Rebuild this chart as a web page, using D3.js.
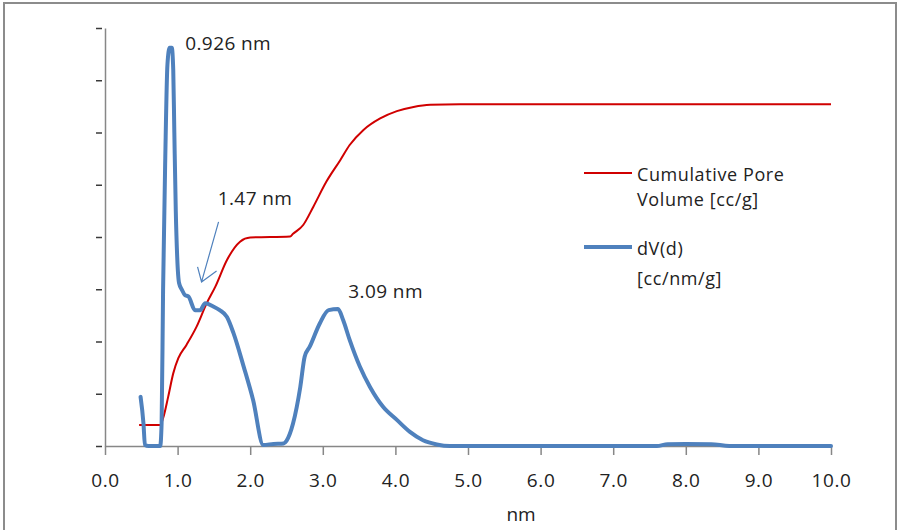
<!DOCTYPE html>
<html>
<head>
<meta charset="utf-8">
<script src="https://cdn.jsdelivr.net/npm/d3@7"></script>
<style>
  body { margin: 0; background: #fff; }
  text { font-family: "Open Sans", "Noto Sans", sans-serif; fill: #222; }
</style>
</head>
<body>
<svg id="chart" width="898" height="530"></svg>
<script>
// pore diameter (nm) vs differential pore volume dV(d)
var dvX = [0.49, 0.53, 0.55, 0.60, 0.76, 0.78, 0.80, 0.83, 0.86, 0.89, 0.92, 0.94, 0.955, 0.975, 0.995,
  1.02, 1.06, 1.10, 1.15, 1.24, 1.31, 1.38, 1.49, 1.58, 1.68, 1.77, 1.91, 2.04, 2.18, 2.32, 2.46,
  2.50, 2.59, 2.69, 2.75, 2.82, 2.96, 3.08, 3.21, 3.28, 3.37, 3.51, 3.65, 3.83, 4.02, 4.20, 4.38,
  4.57, 4.75, 7.60, 7.75, 8.00, 8.35, 8.60, 10.0];
var dvY = [0.94, 0.43, 0.02, 0, 0, 0.44, 2.99, 5.5, 7.3, 7.62, 7.62, 7.2, 6.0, 4.5, 3.6,
  3.12, 2.99, 2.89, 2.86, 2.60, 2.60, 2.73, 2.67, 2.60, 2.47, 2.16, 1.52, 0.88, 0.02, 0.04, 0.05,
  0.10, 0.43, 1.13, 1.71, 1.90, 2.35, 2.60, 2.62, 2.41, 2.03, 1.52, 1.13, 0.75, 0.50, 0.27, 0.11,
  0.03, 0, 0, 0.035, 0.04, 0.035, 0, 0];

// cumulative pore volume
var cumX = [0.47, 0.76, 0.80, 0.87, 0.94, 1.01, 1.12, 1.26, 1.40, 1.52, 1.68, 1.86, 2.00, 2.55, 2.59,
  2.73, 2.87, 3.05, 3.24, 3.37, 3.56, 3.79, 4.02, 4.25, 4.48, 4.89, 10.0];
var cumY = [0.40, 0.40, 0.53, 0.94, 1.39, 1.68, 1.93, 2.28, 2.73, 3.05, 3.56, 3.91, 3.99, 4.01, 4.06,
  4.23, 4.58, 5.06, 5.47, 5.76, 6.05, 6.27, 6.41, 6.49, 6.53, 6.54, 6.54];

var xTicks = [0, 1, 2, 3, 4, 5, 6, 7, 8, 9, 10];
var yTicks = [0, 1, 2, 3, 4, 5, 6, 7, 8];

var peakLabels = [
  {x: 0.926, y: 7.62, text: "0.926 nm"},
  {x: 1.47, y: 2.68, text: "1.47 nm"},
  {x: 3.09, y: 2.62, text: "3.09 nm"}
];
var legendNames = [["Cumulative Pore", "Volume [cc/g]"], ["dV(d)", "[cc/nm/g]"]];

(function(){
  var blue = "#4f81bd", red = "#d00000", grey = "#878787";
  var svg = d3.select("#chart");
  var m = {left: 105, right: 831, top: 28, bottom: 446};

  var x = d3.scaleLinear().domain([0, 10]).range([m.left, m.right]);
  var y = d3.scaleLinear().domain([0, 8]).range([m.bottom, m.top]);

  // outer chart frame
  svg.append("rect").attr("width", 898).attr("height", 530).attr("fill", "#fff");
  svg.append("path")
    .attr("d", "M4,530 L4,3 L896,3 L896,530")
    .attr("fill", "none").attr("stroke", "#8c8c8c").attr("stroke-width", 2);

  // y axis: ticks only, no labels
  var ya = svg.append("g").attr("transform", "translate(" + m.left + ",0)")
    .call(d3.axisLeft(y).tickValues(yTicks).tickSize(9).tickSizeOuter(0).tickFormat(""));
  ya.select(".domain").attr("stroke", grey).attr("stroke-width", 1.5);
  ya.selectAll(".tick line").attr("stroke", "#3a3a3a").attr("stroke-width", 1.5).attr("x2", -3).attr("x1", -9);

  // x axis
  var xa = svg.append("g").attr("transform", "translate(0," + m.bottom + ")")
    .call(d3.axisBottom(x).tickValues(xTicks).tickSize(9).tickSizeOuter(0).tickFormat(d3.format(".1f")));
  xa.select(".domain").attr("stroke", grey).attr("stroke-width", 1.5);
  xa.selectAll(".tick line").attr("stroke", grey).attr("stroke-width", 1.5);
  xa.selectAll(".tick text").attr("font-size", 19).attr("font-family", "Open Sans")
    .attr("fill", "#222").attr("y", 41).attr("dy", 0)
    .attr("letter-spacing", 0.6);

  svg.append("text").attr("x", 521).attr("y", 521).attr("text-anchor", "middle")
    .attr("font-size", 19).text("nm");

  var line = d3.line().curve(d3.curveMonotoneX);

  svg.append("path")
    .attr("d", line(cumX.map(function(v, i){ return [x(v), y(cumY[i])]; })))
    .attr("fill", "none").attr("stroke", red).attr("stroke-width", 2);

  svg.append("path")
    .attr("d", line(dvX.map(function(v, i){ return [x(v), y(dvY[i])]; })))
    .attr("fill", "none").attr("stroke", blue).attr("stroke-width", 4)
    .attr("stroke-linejoin", "round").attr("stroke-linecap", "round");

  // peak annotations
  var offs = [[13, 2], [6, -101], [19, -11]];
  svg.selectAll("text.peak").data(peakLabels).enter().append("text")
    .attr("class", "peak")
    .attr("x", function(d, i){ return x(d.x) + offs[i][0]; })
    .attr("y", function(d, i){ return y(d.y) + offs[i][1]; })
    .attr("font-size", 19).attr("letter-spacing", 0.4)
    .text(function(d){ return d.text; });

  // arrow to the 1.47 nm shoulder
  var tip = [x(1.33), y(3.14)];
  svg.append("path")
    .attr("d", "M" + (tip[0] + 17) + "," + (tip[1] - 60) + "L" + tip[0] + "," + tip[1]
      + "M" + (tip[0] - 4) + "," + (tip[1] - 15) + "L" + tip[0] + "," + tip[1]
      + "L" + (tip[0] + 15) + "," + (tip[1] - 11))
    .attr("fill", "none").attr("stroke", blue).attr("stroke-width", 1.2);

  // legend
  var lg = svg.append("g").attr("transform", "translate(584,173)");
  [red, blue].forEach(function(c, i){
    var g = lg.append("g").attr("transform", "translate(0," + (i * 74) + ")");
    g.append("line").attr("x1", 0).attr("x2", 48).attr("stroke", c).attr("stroke-width", i ? 4 : 2);
    legendNames[i].forEach(function(t, j){
      g.append("text").attr("x", 53).attr("y", 8 + j * 33 - (i ? 3 : 8) * j)
        .attr("font-size", 18).attr("letter-spacing", 0.6).text(t);
    });
  });
})();
</script>
</body>
</html>
